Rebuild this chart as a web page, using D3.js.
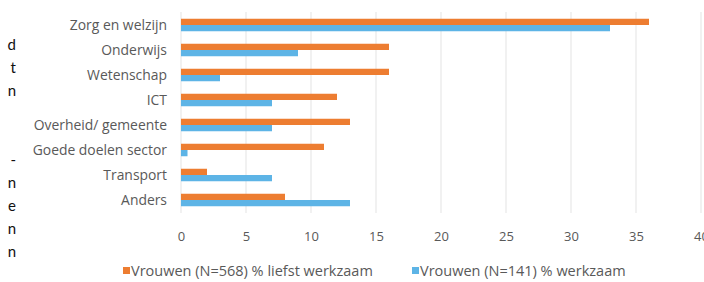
<!DOCTYPE html>
<html>
<head>
<meta charset="utf-8">
<script src="https://cdn.jsdelivr.net/npm/d3@7"></script>
<style>
  body { margin: 0; background: #fff; }
  svg text { font-family: "Open Sans", sans-serif; }
</style>
</head>
<body>
<svg id="chart" width="704" height="282"></svg>
<script>
var categories = ['Zorg en welzijn', 'Onderwijs', 'Wetenschap', 'ICT', 'Overheid/ gemeente', 'Goede doelen sector', 'Transport', 'Anders'];
var liefst = [36, 16, 16, 12, 13, 11, 2, 8];
var werkzaam = [33, 9, 3, 7, 7, 0.5, 7, 13];
var seriesNames = ['Vrouwen (N=568) % liefst werkzaam', 'Vrouwen (N=141) % werkzaam'];
var seriesColors = ['#ED7D31', '#5DB4E6'];
var xTicks = [0, 5, 10, 15, 20, 25, 30, 35, 40];
// stukjes tekst van de pagina links naast de grafiek
var sideText = ['d', 't', 'n', '', '', '-', 'n', 'e', 'n', 'n'];

var svg = d3.select('svg#chart');

var x = d3.scaleLinear().domain([0, 40]).range([181, 701]);
var y = d3.scaleBand().domain(categories).range([12.5, 212.5]).paddingInner(0.5).paddingOuter(0.25);
var sub = d3.scaleBand().domain([0, 1]).range([0, y.bandwidth()]);

// rasterlijnen
svg.append('g')
    .selectAll('line')
    .data(xTicks)
    .enter()
    .append('line')
    .attr('x1', d => x(d))
    .attr('x2', d => x(d))
    .attr('y1', 12)
    .attr('y2', 213)
    .style('stroke', '#E3E3E3')
    .style('stroke-width', 1);

var xAxis = svg.append('g')
    .attr('transform', 'translate(0,228)')
    .call(d3.axisBottom(x).tickValues(xTicks).tickSize(0).tickPadding(4));
xAxis.select('.domain').remove();
xAxis.selectAll('text')
    .style('font-size', '13px')
    .style('fill', '#595959');

var yAxis = svg.append('g')
    .attr('transform', 'translate(167,1)')
    .call(d3.axisLeft(y).tickSize(0).tickPadding(0));
yAxis.select('.domain').remove();
yAxis.selectAll('text')
    .style('font-size', '13.9px')
    .style('fill', '#595959');

// balken
[liefst, werkzaam].forEach(function (vals, i) {
    svg.append('g')
        .selectAll('rect')
        .data(vals)
        .enter()
        .append('rect')
        .attr('x', x(0))
        .attr('y', (d, j) => y(categories[j]) + sub(i))
        .attr('width', d => x(d) - x(0))
        .attr('height', sub.bandwidth())
        .style('fill', seriesColors[i]);
});

// legenda
var legendX = [123, 412];
var legend = svg.append('g').selectAll('g')
    .data(seriesNames)
    .enter()
    .append('g')
    .attr('transform', (d, i) => 'translate(' + legendX[i] + ',266)');
legend.append('rect')
    .attr('width', 7)
    .attr('height', 7)
    .attr('y', 1)
    .style('fill', (d, i) => seriesColors[i]);
legend.append('text')
    .attr('x', 8)
    .attr('y', 10)
    .text(d => d)
    .style('font-size', '14.5px')
    .style('fill', '#595959');

svg.append('g')
    .selectAll('text')
    .data(sideText)
    .enter()
    .append('text')
    .attr('x', 16)
    .attr('y', (d, i) => 50 + i * 23)
    .attr('text-anchor', 'end')
    .text(d => d)
    .style('font-family', 'Lato, sans-serif')
    .style('font-size', '15px')
    .style('fill', '#111');
</script>
</body>
</html>
